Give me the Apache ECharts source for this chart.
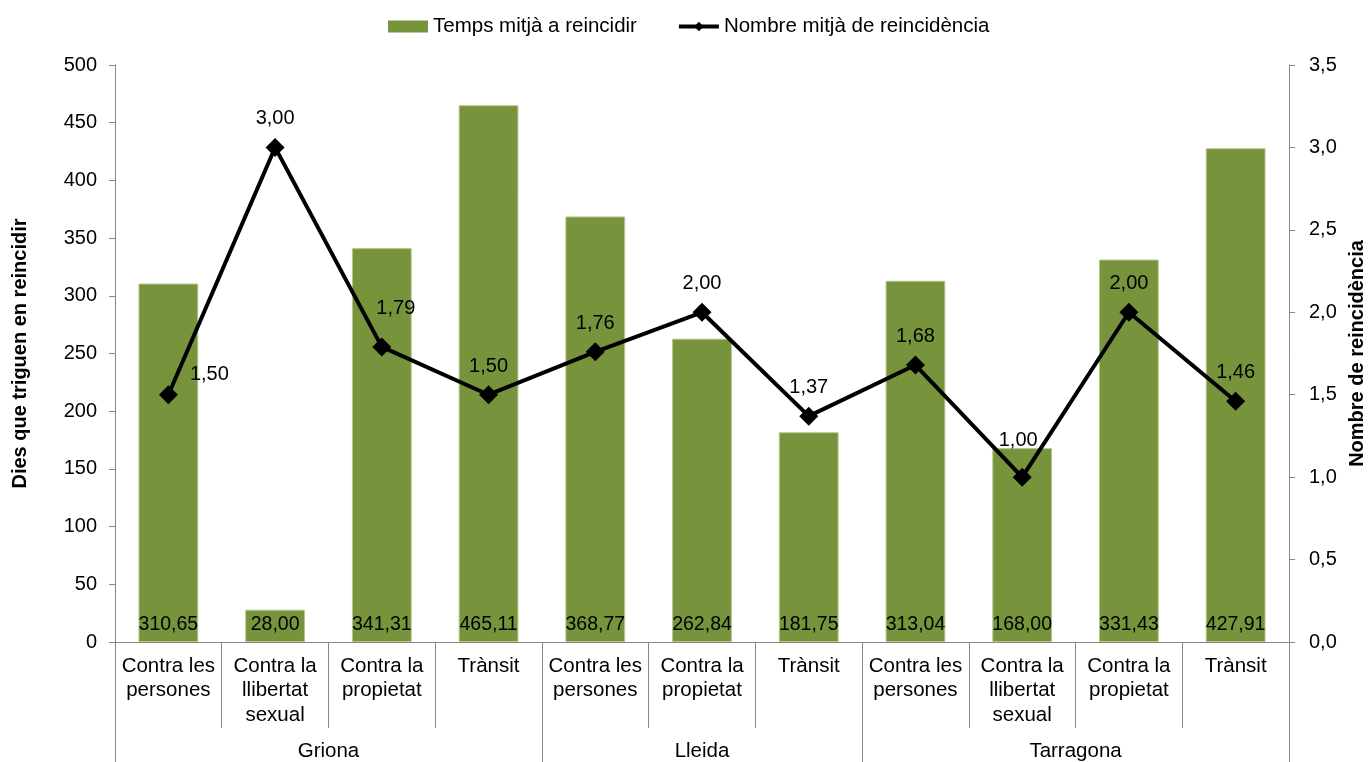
<!DOCTYPE html>
<html>
<head>
<meta charset="utf-8">
<title>Reincidència</title>
<script src="https://cdn.jsdelivr.net/npm/echarts@6/dist/echarts.min.js"></script>
<style>
  html,body{margin:0;padding:0;background:#fff;}
  #chart{width:1368px;height:762px;}
</style>
</head>
<body>
<div id="chart"></div>
<script>
/*dades*/
const categories = [
  "Contra les\npersones", "Contra la\nllibertat\nsexual", "Contra la\npropietat", "Trànsit",
  "Contra les\npersones", "Contra la\npropietat", "Trànsit",
  "Contra les\npersones", "Contra la\nllibertat\nsexual", "Contra la\npropietat", "Trànsit"
];
const groupNames = ["Griona", "Lleida", "Tarragona"];
const groupSizes = [4, 3, 4];
const tempsMitja = [310.65, 28.00, 341.31, 465.11, 368.77, 262.84, 181.75, 313.04, 168.00, 331.43, 427.91];
const nombreMitja = [1.50, 3.00, 1.79, 1.50, 1.76, 2.00, 1.37, 1.68, 1.00, 2.00, 1.46];

const FONT = "'Liberation Sans', Arial, sans-serif";
const GREY = "#868686";
const comma = (v, d) => v.toFixed(d).replace(".", ",");

// límits i centres dels grups (en unitats de categoria)
const groupEdges = [0];
const groupCenters = {};
groupSizes.forEach((n, i) => {
  const start = groupEdges[i];
  groupEdges.push(start + n);
  groupCenters[start + n / 2] = groupNames[i];
});

// posició d'algunes etiquetes desplaçades a mà
const labelOffsets = {0: [41, 8], 2: [14, -10], 8: [-4, -8]};
const lineData = nombreMitja.map((v, i) => {
  const off = labelOffsets[i];
  return off ? {value: v, label: {offset: off}} : v;
});

const chart = echarts.init(document.getElementById("chart"));

chart.setOption({
  animation: false,
  textStyle: {fontFamily: FONT},
  legend: {
    top: 11,
    left: 383,
    itemGap: 40,
    itemWidth: 40,
    itemHeight: 12,
    textStyle: {fontSize: 20.5, color: "#000", fontFamily: FONT},
    data: [
      {name: "Temps mitjà a reincidir", icon: "rect", itemStyle: {borderWidth: 0}},
      {name: "Nombre mitjà de reincidència", lineStyle: {width: 4}}
    ]
  },
  grid: [
    {left: 115, right: 79, top: 65, bottom: 120, outerBoundsMode: "none", containLabel: false},
    // franja dels separadors de grup
    {left: 115, right: 79, top: 728, bottom: 0, outerBoundsMode: "none", containLabel: false}
  ],
  xAxis: [
    {
      type: "category",
      data: categories,
      axisLine: {lineStyle: {color: GREY}},
      axisTick: {show: true, interval: 0, length: 86, lineStyle: {color: GREY}},
      axisLabel: {interval: 0, margin: 12, fontSize: 20.5, lineHeight: 24.5, color: "#000", fontFamily: FONT}
    },
    {
      // noms dels grups
      type: "value",
      position: "bottom",
      offset: 86,
      min: 0,
      max: categories.length,
      axisLine: {show: false},
      splitLine: {show: false},
      axisTick: {show: false},
      axisLabel: {
        customValues: Object.keys(groupCenters).map(Number),
        formatter: v => groupCenters[v] || "",
        margin: 13, fontSize: 20.5, color: "#000", fontFamily: FONT
      }
    },
    {
      // separadors dels grups
      type: "category",
      gridIndex: 1,
      data: categories,
      axisLine: {show: false},
      axisTick: {show: false},
      axisLabel: {show: false},
      splitLine: {show: true, interval: idx => groupEdges.includes(idx), lineStyle: {color: GREY, width: 1}}
    }
  ],
  yAxis: [
    {
      type: "value",
      min: 0, max: 500, interval: 50,
      name: "Dies que triguen en reincidir",
      nameLocation: "middle",
      nameGap: 85,
      nameTextStyle: {fontSize: 20, fontWeight: "bold", color: "#000", fontFamily: FONT},
      axisLine: {show: true, lineStyle: {color: GREY}},
      axisTick: {show: true, length: 6, lineStyle: {color: GREY}},
      splitLine: {show: false},
      axisLabel: {fontSize: 20, color: "#000", margin: 18, fontFamily: FONT}
    },
    {
      type: "value",
      min: 0, max: 3.5, interval: 0.5,
      position: "right",
      name: "Nombre de reincidència",
      nameLocation: "middle",
      nameGap: 58,
      nameRotate: 90,
      nameTextStyle: {fontSize: 20, fontWeight: "bold", color: "#000", fontFamily: FONT},
      axisLine: {show: true, lineStyle: {color: GREY}},
      axisTick: {show: true, length: 6, lineStyle: {color: GREY}},
      splitLine: {show: false},
      axisLabel: {fontSize: 20, color: "#000", margin: 20, fontFamily: FONT, formatter: v => comma(v, 1)}
    },
    {
      type: "value",
      gridIndex: 1,
      show: false
    }
  ],
  series: [
    {
      name: "Temps mitjà a reincidir",
      type: "bar",
      data: tempsMitja,
      barCategoryGap: "44%",
      itemStyle: {color: "#77933C", borderColor: "#b3c78c", borderWidth: 1},
      label: {
        show: true,
        position: "insideBottom",
        distance: 7,
        fontSize: 19.5,
        color: "#000",
        fontFamily: FONT,
        formatter: p => comma(p.value, 2)
      }
    },
    {
      name: "Nombre mitjà de reincidència",
      type: "line",
      yAxisIndex: 1,
      data: lineData,
      symbol: "diamond",
      symbolSize: 19,
      itemStyle: {color: "#000"},
      lineStyle: {color: "#000", width: 4},
      label: {
        show: true,
        position: "top",
        distance: 9,
        fontSize: 20,
        color: "#000",
        fontFamily: FONT,
        formatter: p => comma(p.value, 2)
      }
    }
  ]
});
</script>
</body>
</html>
